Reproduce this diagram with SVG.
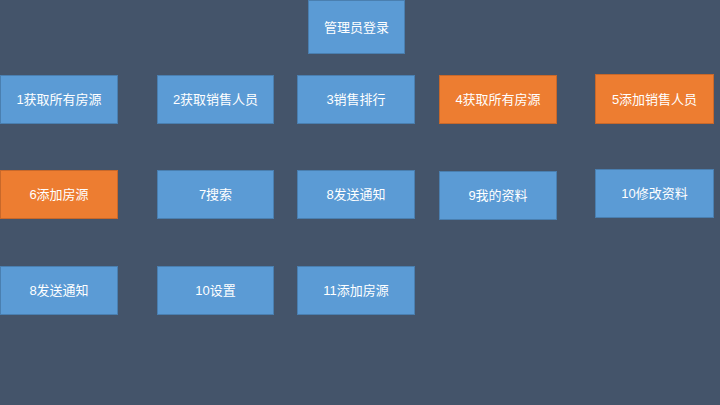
<svg xmlns="http://www.w3.org/2000/svg" width="720" height="405" viewBox="0 0 720 405">
<style>
.b{fill:#5B9BD5;stroke:#4A7FB0;stroke-width:1}
.o{fill:#ED7D31;stroke:#C8682A;stroke-width:1}
text{fill:#FFFFFF;font-family:"Liberation Sans","Noto Sans CJK SC",sans-serif;font-size:13px;text-anchor:middle;dominant-baseline:central}
</style>
<rect width="720" height="405" fill="#44546A"/>
<g id="n0"><rect class="b" x="308.5" y="0.5" width="96" height="53"/><text x="356.5" y="27">管理员登录</text></g>
<g id="n1"><rect class="b" x="0.5" y="75.5" width="117" height="48"/><text x="59" y="99.5">1获取所有房源</text></g>
<g id="n2"><rect class="b" x="157.5" y="75.5" width="116" height="48"/><text x="215.5" y="99.5">2获取销售人员</text></g>
<g id="n3"><rect class="b" x="297.5" y="75.5" width="117" height="48"/><text x="356" y="99.5">3销售排行</text></g>
<g id="n4"><rect class="o" x="439.5" y="75.5" width="117" height="48"/><text x="498" y="99.5">4获取所有房源</text></g>
<g id="n5"><rect class="o" x="595.5" y="74.5" width="118" height="49"/><text x="654.5" y="99">5添加销售人员</text></g>
<g id="n6"><rect class="o" x="0.5" y="170.5" width="117" height="48"/><text x="59" y="194.5">6添加房源</text></g>
<g id="n7"><rect class="b" x="157.5" y="170.5" width="116" height="48"/><text x="215.5" y="194.5">7搜索</text></g>
<g id="n8"><rect class="b" x="297.5" y="170.5" width="117" height="48"/><text x="356" y="194.5">8发送通知</text></g>
<g id="n9"><rect class="b" x="439.5" y="171.5" width="117" height="48"/><text x="498" y="195.5">9我的资料</text></g>
<g id="n10"><rect class="b" x="595.5" y="169.5" width="118" height="48"/><text x="654.5" y="193.5">10修改资料</text></g>
<g id="n11"><rect class="b" x="0.5" y="266.5" width="117" height="48"/><text x="59" y="290.5">8发送通知</text></g>
<g id="n12"><rect class="b" x="157.5" y="266.5" width="116" height="48"/><text x="215.5" y="290.5">10设置</text></g>
<g id="n13"><rect class="b" x="297.5" y="266.5" width="117" height="48"/><text x="356" y="290.5">11添加房源</text></g>
<g id="connectors"></g>
</svg>
